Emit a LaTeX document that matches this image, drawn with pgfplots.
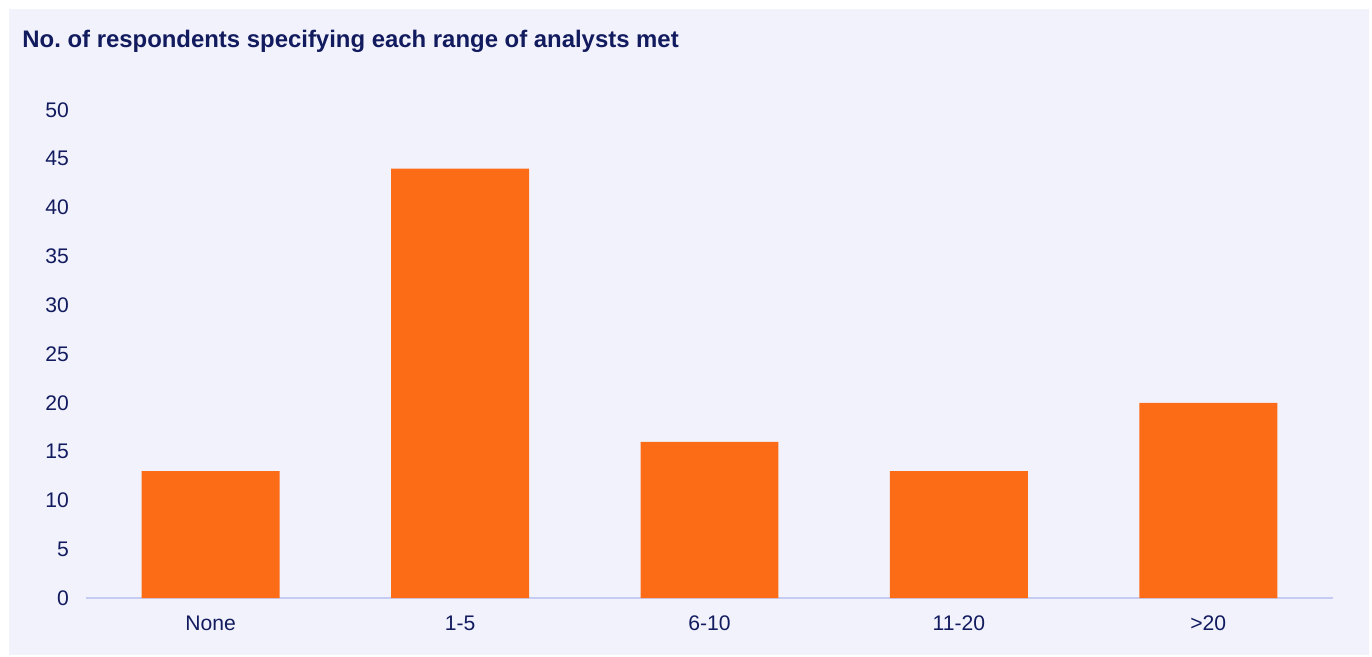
\documentclass[border=0pt]{standalone}
\usepackage{pgfplots}
\pgfplotsset{compat=1.18}
\usepackage{fontspec}
\setmainfont{Liberation Sans}

\definecolor{barorange}{HTML}{FC6B15}
\definecolor{navytext}{HTML}{121B5E}
\definecolor{panelbg}{HTML}{F2F2FD}
\definecolor{axisline}{HTML}{C5CBF2}

\begin{document}
\begin{tikzpicture}[x=1bp,y=1bp]
% 1 px of the reference = 0.5bp; axis lower left at px (86,598)
\fill[white] (-43,-29) rectangle (643,299);
\fill[panelbg] (-38.5,-28.5) rectangle (641.5,294.5);
\node[anchor=base west, inner sep=0pt, text=navytext,
      font=\fontsize{12}{14}\selectfont\bfseries]
  at (-32,275.5) {No.\ of respondents specifying each range of analysts met};
\begin{axis}[
    at={(0,0)}, anchor=south west,
    scale only axis,
    width=623.5bp, height=244bp,
    xmin=-0.5, xmax=4.5,
    ymin=0, ymax=50,
    ytick={0,5,...,50},
    xtick=data,
    xticklabels={None,1-5,6-10,11-20,>20},
    major tick length=0pt,
    axis x line*=bottom,
    axis y line*=left,
    x axis line style={draw=axisline, line width=1bp, -},
    y axis line style={draw=none},
    ticklabel style={text=navytext, font=\fontsize{10.6}{12}\selectfont},
    /pgf/number format/assume math mode=true,
    yticklabel style={xshift=-5bp},
    xticklabel style={yshift=-5.5bp},
    ybar,
    bar width=0.553,
    ]
  \addplot[fill=barorange, draw=none] coordinates {
    (0,13) (1,44) (2,16) (3,13) (4,20)
  };
\end{axis}
\end{tikzpicture}
\end{document}
